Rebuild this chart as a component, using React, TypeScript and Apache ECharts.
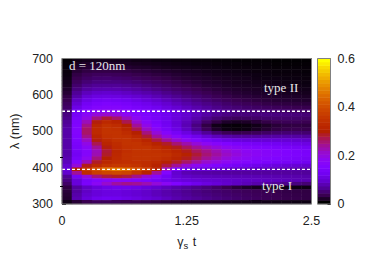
import React, { useEffect, useRef } from "react";
import * as echarts from "echarts";

const times = ["0.05","0.15","0.25","0.35","0.45","0.55","0.65","0.75","0.85","0.95","1.05","1.15","1.25","1.35","1.45","1.55","1.65","1.75","1.85","1.95","2.05","2.15","2.25","2.35","2.45"];
const wavelengths = ["695","685","675","665","655","645","635","625","615","605","595","585","575","565","555","545","535","525","515","505","495","485","475","465","455","445","435","425","415","405","395","385","375","365","355","345","335","325","315","305"];
const intensity = [
[.002,.008,.01,.01,.01,.01,.01,.008,.008,.006,.006,.005,.005,.004,.004,.003,.003,.002,.002,.002,.002,.001,.001,.001,.001],
[.003,.012,.015,.015,.015,.014,.013,.012,.011,.01,.009,.008,.007,.006,.006,.005,.004,.004,.003,.003,.003,.002,.002,.002,.002],
[.004,.017,.02,.021,.021,.02,.019,.017,.016,.014,.012,.011,.01,.009,.008,.007,.006,.005,.005,.004,.004,.003,.003,.003,.003],
[.005,.02,.025,.027,.027,.026,.025,.023,.021,.019,.017,.015,.013,.012,.01,.009,.008,.007,.006,.005,.005,.004,.004,.004,.003],
[.006,.026,.032,.035,.035,.034,.032,.029,.027,.024,.022,.019,.017,.015,.013,.011,.01,.009,.008,.007,.006,.005,.005,.005,.004],
[.008,.03,.038,.042,.043,.042,.04,.036,.033,.03,.027,.023,.02,.018,.016,.014,.012,.011,.01,.008,.007,.007,.006,.006,.005],
[.01,.035,.045,.05,.05,.05,.048,.044,.04,.036,.032,.028,.024,.021,.018,.016,.014,.012,.011,.01,.009,.008,.007,.007,.006],
[.012,.042,.055,.06,.06,.06,.057,.053,.048,.043,.038,.033,.029,.025,.021,.019,.016,.014,.013,.012,.01,.01,.009,.008,.007],
[.016,.05,.065,.072,.073,.072,.068,.063,.057,.051,.045,.04,.035,.03,.026,.022,.019,.017,.015,.014,.012,.011,.01,.01,.009],
[.02,.06,.08,.088,.09,.088,.083,.076,.07,.063,.055,.048,.042,.036,.031,.027,.023,.02,.018,.016,.015,.013,.012,.012,.011],
[.026,.07,.095,.105,.107,.105,.1,.092,.085,.076,.067,.058,.05,.044,.038,.032,.028,.024,.022,.02,.018,.016,.015,.015,.014],
[.03,.085,.11,.125,.128,.125,.118,.11,.1,.09,.08,.07,.06,.052,.045,.039,.034,.03,.027,.024,.022,.02,.019,.018,.017],
[.035,.095,.125,.14,.145,.142,.135,.125,.115,.104,.092,.08,.07,.06,.053,.047,.041,.036,.033,.03,.027,.025,.024,.023,.022],
[.04,.11,.14,.155,.16,.158,.15,.14,.13,.118,.105,.093,.082,.072,.063,.055,.049,.045,.041,.038,.036,.034,.032,.03,.029],
[.045,.12,.155,.17,.175,.17,.16,.15,.14,.128,.114,.102,.09,.08,.07,.062,.056,.051,.048,.046,.045,.043,.041,.04,.038],
[.05,.13,.17,.2,.21,.2,.18,.16,.146,.132,.118,.104,.092,.08,.068,.058,.052,.048,.048,.049,.05,.05,.049,.048,.046],
[.055,.14,.19,.25,.28,.26,.22,.18,.152,.134,.118,.102,.088,.072,.056,.045,.038,.035,.037,.04,.042,.043,.043,.042,.04],
[.06,.145,.22,.295,.325,.31,.27,.21,.168,.14,.118,.098,.08,.06,.04,.026,.016,.013,.015,.021,.027,.031,.033,.033,.031],
[.065,.15,.245,.32,.345,.335,.3,.24,.188,.15,.122,.1,.076,.05,.026,.009,.004,.003,.005,.009,.015,.021,.024,.025,.024],
[.07,.155,.26,.33,.35,.345,.32,.27,.215,.17,.136,.11,.084,.058,.034,.016,.007,.005,.007,.013,.02,.026,.029,.03,.029],
[.07,.155,.26,.33,.35,.35,.335,.3,.25,.2,.16,.13,.105,.082,.06,.043,.032,.028,.03,.034,.038,.042,.044,.044,.043],
[.07,.15,.245,.315,.345,.35,.345,.325,.28,.235,.195,.165,.138,.115,.095,.08,.07,.065,.064,.065,.066,.068,.068,.067,.064],
[.07,.145,.215,.295,.33,.345,.35,.34,.315,.275,.24,.208,.18,.155,.135,.12,.11,.104,.1,.098,.097,.096,.095,.092,.088],
[.07,.14,.19,.27,.315,.335,.35,.35,.335,.31,.285,.255,.228,.202,.18,.162,.15,.14,.134,.128,.125,.12,.116,.112,.107],
[.07,.135,.17,.24,.295,.33,.345,.35,.35,.335,.315,.29,.265,.24,.218,.198,.182,.17,.16,.153,.148,.142,.137,.132,.127],
[.07,.13,.16,.22,.28,.32,.34,.35,.35,.345,.335,.315,.29,.265,.245,.225,.205,.19,.178,.17,.163,.157,.15,.144,.137],
[.07,.125,.16,.225,.285,.325,.345,.35,.35,.35,.345,.328,.305,.28,.255,.235,.215,.198,.184,.174,.166,.16,.152,.146,.14],
[.075,.135,.18,.25,.3,.33,.345,.35,.35,.345,.335,.315,.29,.265,.24,.22,.2,.185,.175,.165,.158,.15,.145,.14,.13],
[.08,.155,.22,.285,.32,.335,.34,.34,.335,.325,.305,.285,.26,.235,.21,.195,.18,.165,.155,.15,.142,.135,.13,.125,.118],
[.09,.2,.29,.33,.35,.36,.36,.35,.335,.31,.275,.24,.205,.18,.165,.15,.14,.13,.122,.115,.11,.105,.1,.097,.093],
[.1,.3,.37,.41,.45,.47,.45,.41,.37,.305,.215,.14,.11,.1,.095,.09,.085,.082,.08,.078,.076,.074,.072,.07,.068],
[.09,.24,.335,.375,.39,.395,.385,.355,.31,.24,.155,.09,.075,.07,.068,.066,.065,.064,.064,.064,.064,.064,.064,.063,.062],
[.06,.13,.2,.25,.275,.285,.275,.245,.205,.165,.125,.097,.087,.082,.08,.078,.077,.076,.076,.076,.075,.074,.073,.072,.07],
[.05,.1,.135,.155,.17,.175,.17,.16,.145,.13,.115,.105,.1,.096,.092,.09,.088,.086,.084,.083,.082,.08,.078,.076,.074],
[.04,.1,.14,.175,.21,.235,.245,.24,.225,.2,.175,.15,.13,.115,.105,.098,.09,.084,.078,.072,.066,.06,.055,.05,.045],
[.025,.065,.085,.1,.11,.115,.115,.11,.1,.09,.08,.07,.062,.055,.048,.04,.03,.022,.016,.012,.01,.009,.008,.008,.008],
[.022,.065,.085,.1,.105,.105,.1,.095,.088,.08,.072,.065,.058,.052,.047,.043,.04,.036,.034,.032,.03,.028,.027,.026,.025],
[.02,.07,.09,.1,.105,.105,.1,.094,.088,.08,.073,.067,.06,.054,.05,.046,.042,.039,.036,.034,.032,.03,.028,.027,.026],
[.018,.075,.1,.115,.12,.118,.112,.105,.097,.09,.082,.073,.066,.06,.055,.05,.046,.042,.038,.036,.033,.031,.029,.028,.026],
[.008,.02,.03,.035,.035,.034,.032,.03,.028,.025,.022,.02,.018,.016,.015,.014,.012,.011,.01,.009,.009,.008,.008,.007,.007],
];
const colorbarLevels = [0,.015,.03,.045,.06,.075,.09,.105,.12,.135,.15,.165,.18,.195,.21,.225,.24,.255,.27,.285,.3,.315,.33,.345,.36,.375,.39,.405,.42,.435,.45,.465,.48,.495,.51,.525,.54,.555,.57,.585,.6];
const palette = ["#000000","#390050","#500196","#6301ce","#7202f2","#8004ff","#8c07f2","#970bce","#a11096","#ab1750","#b42000","#bd2a00","#c53700","#cd4600","#d55700","#dd6c00","#e48300","#eb9d00","#f2ba00","#f8da00","#ffff00"];
const typeBoundaries = [555, 395];
const tRange = [0, 2.5];
const xTickLabels = ["0", "1.25", "2.5"];

const SANS = '"Liberation Sans", Arial, sans-serif';
const SERIF = '"Liberation Serif", serif';

export default function App() {
  const ref = useRef<HTMLDivElement>(null);
  useEffect(() => {
    const chart = echarts.init(ref.current!, undefined, { renderer: "svg" });
    const heat: number[][] = [];
    intensity.forEach((row, r) => row.forEach((v, c) => heat.push([c, r, v])));
    const bar = colorbarLevels.map((v, i) => [0, i, v]);
    const G = { l: 62, t: 58.5, w: 249.5, h: 145.5 };
    const C = { l: 317.5, t: 58.5, w: 13, h: 145.5 };
    const hiddenCat = (gridIndex: number, data: string[], inverse = false) => ({
      type: "category", gridIndex, data, inverse, show: false,
    });
    chart.setOption({
      animation: false,
      backgroundColor: "#ffffff",
      grid: [
        { left: G.l, top: G.t, width: G.w, height: G.h, containLabel: false },
        { left: C.l, top: C.t, width: C.w, height: C.h, containLabel: false },
      ],
      visualMap: {
        show: false, type: "continuous", min: 0, max: 0.6, seriesIndex: [0, 1],
        inRange: { color: palette },
      },
      xAxis: [
        hiddenCat(0, times),
        {
          type: "value", gridIndex: 0, min: tRange[0], max: tRange[1], interval: 0.625,
          position: "bottom",
          axisLine: { show: false },
          axisTick: { show: true, inside: true, length: 4, lineStyle: { color: "#000", width: 1 } },
          splitLine: { show: false },
          axisLabel: {
            margin: 10, color: "#222", fontFamily: SANS, fontSize: 12.5,
            formatter: (v: number) => xTickLabels.find((s) => Number(s) === v) ?? "",
          },
          name: "{a|γ}{s|s}{a| t}",
          nameLocation: "middle", nameGap: 30,
          nameTextStyle: {
            rich: {
              a: { fontFamily: SANS, fontSize: 12.5, color: "#222" },
              s: { fontFamily: SANS, fontSize: 9.5, color: "#222", verticalAlign: "bottom", padding: [6, 1, 0, 0] },
            },
          },
        },
        hiddenCat(1, ["bar"]),
      ],
      yAxis: [
        hiddenCat(0, wavelengths, true),
        {
          type: "value", gridIndex: 0, min: 300, max: 700, interval: 100, position: "left",
          axisLine: { show: false },
          axisTick: { show: true, inside: true, length: 4, lineStyle: { color: "#000", width: 1 } },
          splitLine: { show: false },
          axisLabel: { margin: 9, color: "#222", fontFamily: SANS, fontSize: 12.5 },
          name: "λ (nm)", nameLocation: "middle", nameGap: 34, nameRotate: 90,
          nameTextStyle: { fontFamily: SANS, fontSize: 12.5, color: "#222" },
        },
        hiddenCat(1, colorbarLevels.map(String)),
        {
          type: "value", gridIndex: 1, min: 0, max: 0.6, interval: 0.2, position: "right",
          axisLine: { show: false },
          axisTick: { show: true, inside: true, length: 3, lineStyle: { color: "#000", width: 1 } },
          splitLine: { show: false },
          axisLabel: {
            margin: 7, color: "#222", fontFamily: SANS, fontSize: 12.5,
            formatter: (v: number) => (v === 0 ? "0" : v.toFixed(1)),
          },
        },
      ],
      series: [
        { type: "heatmap", xAxisIndex: 0, yAxisIndex: 0, data: heat, itemStyle: { borderWidth: 0 }, emphasis: { disabled: true }, progressive: 0 },
        { type: "heatmap", xAxisIndex: 2, yAxisIndex: 2, data: bar, itemStyle: { borderWidth: 0 }, emphasis: { disabled: true }, progressive: 0 },
        ...typeBoundaries.map((b) => ({
          type: "line", xAxisIndex: 1, yAxisIndex: 1, symbol: "none", silent: true,
          data: [[tRange[0], b], [tRange[1], b]],
          lineStyle: { color: "#ffffff", width: 1.3, type: [3, 2] },
          z: 5,
        })),
      ],
      graphic: [
        { type: "rect", z: 20, silent: true, shape: { x: G.l, y: G.t, width: G.w, height: G.h }, style: { fill: "none", stroke: "#808080", lineWidth: 1 } },
        { type: "rect", z: 20, silent: true, shape: { x: C.l, y: C.t, width: C.w, height: C.h }, style: { fill: "none", stroke: "#808080", lineWidth: 1 } },
        { type: "text", z: 21, silent: true, x: 69, y: 59, style: { text: "d = 120nm", fill: "#e8e8e8", font: `13px ${SERIF}` } },
        { type: "text", z: 21, silent: true, x: 264, y: 81, style: { text: "type II", fill: "#e8e8e8", font: `13px ${SERIF}` } },
        { type: "text", z: 21, silent: true, x: 262, y: 179, style: { text: "type I", fill: "#e8e8e8", font: `13px ${SERIF}` } },
        { type: "line", z: 21, silent: true, shape: { x1: 60, y1: 157.5, x2: 63, y2: 157.5 }, style: { stroke: "#000", lineWidth: 1 } },
        { type: "line", z: 21, silent: true, shape: { x1: 60, y1: 186.5, x2: 63, y2: 186.5 }, style: { stroke: "#000", lineWidth: 1 } },
      ],
    });
    return () => chart.dispose();
  }, []);
  return <div ref={ref} style={{ position: "fixed", left: 0, top: 0, width: 374, height: 262 }} />;
}
